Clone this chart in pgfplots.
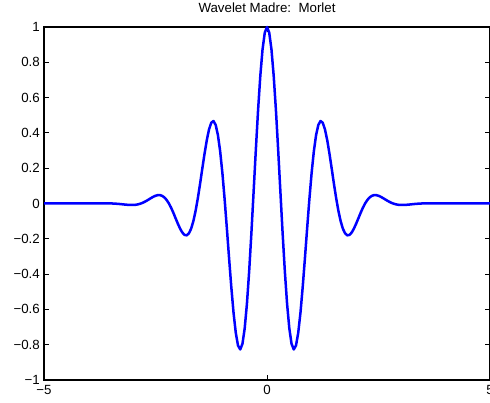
\documentclass[border=0pt]{standalone}
\usepackage{pgfplots}
\pgfplotsset{compat=1.18}
\usepackage{fontspec}
\setmainfont{Liberation Sans}
\begin{document}
\begin{tikzpicture}
\begin{axis}[
  at={(0,0)}, anchor=south west,
  scale only axis, width=446bp, height=353bp,
  xmin=-5, xmax=5, ymin=-1, ymax=1,
  xtick={-5,0,5}, xticklabels={−5,0,5},
  ytick={-1,-0.8,-0.6,-0.4,-0.2,0,0.2,0.4,0.6,0.8,1},
  yticklabels={−1,−0.8,−0.6,−0.4,−0.2,0,0.2,0.4,0.6,0.8,1},
  tick align=inside, major tick length=5bp,
  tick style={black, line width=0.8bp},
  axis line style={black, line width=1.1bp},
  every tick label/.append style={font=\fontsize{13.3bp}{15bp}\selectfont},
  yticklabel style={inner sep=0pt, xshift=-4bp},
  xticklabel style={inner sep=0pt, yshift=-5bp},
  title={Wavelet Madre:\ \ Morlet},
  title style={font=\fontsize{13.3bp}{15bp}\selectfont, inner sep=0pt, at={(0.5,1)}, anchor=base, yshift=9bp},
  clip=false,
]
\addplot[blue, line width=2.5bp, line join=round] coordinates {
(-5,0) (-4,0) (-3.5,0.0005) (-3.4,-0.0009) (-3.3,-0.0030) (-3.2,-0.0057) (-3.1,-0.0080)
(-3.00,-0.0084) (-2.95,-0.0074) (-2.90,-0.0053) (-2.85,-0.0019) (-2.80,0.0027)
(-2.75,0.0086) (-2.70,0.0155) (-2.65,0.0231) (-2.60,0.0309) (-2.55,0.0381)
(-2.50,0.0438) (-2.45,0.0473) (-2.40,0.0474) (-2.35,0.0433) (-2.30,0.0343)
(-2.25,0.0200) (-2.20,0.0004) (-2.15,-0.0239) (-2.10,-0.0524) (-2.05,-0.0832)
(-2.00,-0.1136) (-1.95,-0.1415) (-1.90,-0.1640) (-1.85,-0.1779) (-1.80,-0.1803)
(-1.75,-0.1689) (-1.70,-0.1419) (-1.65,-0.0989) (-1.60,-0.0405) (-1.55,0.0312)
(-1.50,0.1125) (-1.45,0.1991) (-1.40,0.2830) (-1.35,0.3590) (-1.30,0.4195)
(-1.25,0.4576) (-1.20,0.4674) (-1.15,0.4445) (-1.10,0.3870) (-1.05,0.2951)
(-1.00,0.1721) (-0.95,0.0239) (-0.90,-0.1406) (-0.85,-0.3111) (-0.80,-0.4746)
(-0.75,-0.6194) (-0.70,-0.7330) (-0.65,-0.8048) (-0.60,-0.8269) (-0.55,-0.7946)
(-0.50,-0.7070) (-0.45,-0.5677) (-0.40,-0.3842) (-0.35,-0.1677) (-0.30,0.0676)
(-0.25,0.3056) (-0.20,0.5296) (-0.15,0.7235) (-0.10,0.8732) (-0.05,0.9677)
(0,1)
(0.05,0.9677) (0.10,0.8732) (0.15,0.7235) (0.20,0.5296) (0.25,0.3056)
(0.30,0.0676) (0.35,-0.1677) (0.40,-0.3842) (0.45,-0.5677) (0.50,-0.7070)
(0.55,-0.7946) (0.60,-0.8269) (0.65,-0.8048) (0.70,-0.7330) (0.75,-0.6194)
(0.80,-0.4746) (0.85,-0.3111) (0.90,-0.1406) (0.95,0.0239) (1.00,0.1721)
(1.05,0.2951) (1.10,0.3870) (1.15,0.4445) (1.20,0.4674) (1.25,0.4576)
(1.30,0.4195) (1.35,0.3590) (1.40,0.2830) (1.45,0.1991) (1.50,0.1125)
(1.55,0.0312) (1.60,-0.0405) (1.65,-0.0989) (1.70,-0.1419) (1.75,-0.1689)
(1.80,-0.1803) (1.85,-0.1779) (1.90,-0.1640) (1.95,-0.1415) (2.00,-0.1136)
(2.05,-0.0832) (2.10,-0.0524) (2.15,-0.0239) (2.20,0.0004) (2.25,0.0200)
(2.30,0.0343) (2.35,0.0433) (2.40,0.0474) (2.45,0.0473) (2.50,0.0438)
(2.55,0.0381) (2.60,0.0309) (2.65,0.0231) (2.70,0.0155) (2.75,0.0086)
(2.80,0.0027) (2.85,-0.0019) (2.90,-0.0053) (2.95,-0.0074) (3.00,-0.0084)
(3.1,-0.0080) (3.2,-0.0057) (3.3,-0.0030) (3.4,-0.0009) (3.5,0.0005) (4,0) (5,0)
};
\end{axis}
\pgfresetboundingbox
\useasboundingbox (-44bp,-23bp) rectangle (446bp,380bp);
\end{tikzpicture}
\end{document}
